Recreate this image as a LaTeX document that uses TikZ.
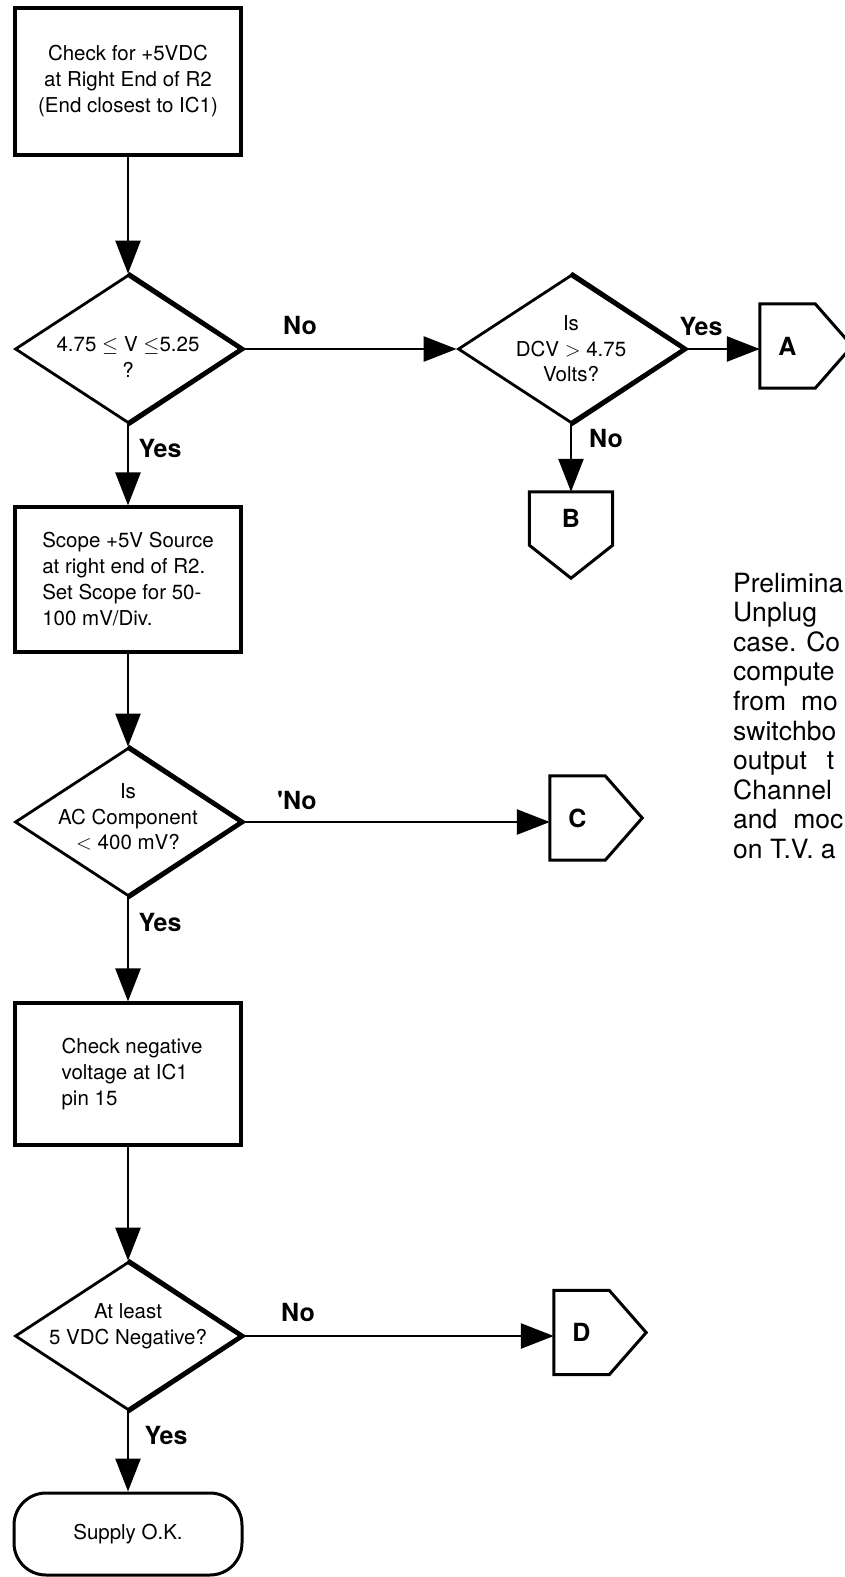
\documentclass[tikz,border=0pt]{standalone}
\usepackage{fontspec}
\setmainfont{TeX Gyre Heros}
\usetikzlibrary{positioning, shapes.geometric, arrows.meta}

\begin{document}
\begin{tikzpicture}[x=1pt, y=-1pt,
		every node/.style={font=\fontsize{20.5}{26}\selectfont},
		proc/.style={draw, line width=3.2pt, minimum width=226pt, inner sep=0pt},
		decision/.style={draw, diamond, line width=2.8pt, minimum width=226pt, minimum height=148pt, inner sep=0pt},
		dtext/.style={align=center, inner sep=0pt, font=\fontsize{20.5}{25.5}\selectfont},
		offpage/.style={minimum width=55pt, minimum height=84pt, inner sep=0pt, font=\fontsize{25}{30}\selectfont\bfseries},
		lbl/.style={inner sep=0pt, font=\fontsize{25}{30}\selectfont\bfseries},
		note/.style={inner sep=0pt, font=\fontsize{26.5}{29.6}\selectfont},
		flow/.style={line width=2.6pt, -{Triangle[length=33pt, width=25pt]}}]
	
	\useasboundingbox (0,0) rectangle (844,1577);
	
	% main column
	\node[proc, minimum height=147pt, align=center] (chk) at (128,81.5) {Check for +5VDC\\at Right End of R2\\(End closest to IC1)};
	\node[decision, label={[dtext, yshift=-8pt]center:{4.75 $\leq$ V $\leq$5.25\\?}}] (d1) at (128,349) {};
	\node[proc, minimum height=145pt, align=left] (scope) at (128,579.5) {Scope +5V Source\\at right end of R2.\\Set Scope for 50-\\100 mV/Div.};
	\node[decision, label={[dtext, yshift=5pt]center:{Is\\AC Component\\$<$ 400 mV?}}] (d3) at (128,822) {};
	\node[proc, minimum height=142pt, align=left] (neg) at (128,1074) {\hspace*{8pt}Check negative\\\hspace*{8pt}voltage at IC1\\\hspace*{8pt}pin 15};
	\node[decision, label={[dtext, yshift=10pt]center:{At least\\5 VDC Negative?}}] (d4) at (128,1336) {};
	\node[proc, line width=3pt, rounded corners=32pt, minimum width=228pt, minimum height=82pt] (ok) at (128,1534) {Supply O.K.};
	
	% right side
	\node[decision, label={[dtext]center:{Is\\DCV $>$ 4.75\\Volts?}}] (d2) at (571,349) {};
	\node[offpage] (A) at (787.5,346) {A};
	\node[offpage, minimum width=83pt, minimum height=53pt] (B) at (571,518.5) {B};
	\node[offpage] (C) at (577.5,818) {C};
	\node[offpage] (D) at (581.5,1332.5) {D};
	
	\foreach \p in {A,C,D}
		\draw[line width=3pt] (\p.north west) -- (\p.north east) -- ([xshift=37pt]\p.east) -- (\p.south east) -- (\p.south west) -- cycle;
	\draw[line width=3pt] (B.north west) -- (B.north east) -- (B.south east) -- ([yshift=-33pt]B.south) -- (B.south west) -- cycle;
	
	% heavier right edges of the diamonds
	\foreach \d in {d1,d2,d3,d4}
		\draw[line width=4.4pt] (\d.north) -- (\d.east) -- (\d.south);
	
	% connectors
	\draw[flow] (chk.south) -- (d1.north);
	\draw[flow] (d1.east) -- (d2.west);
	\draw[flow] (d2.east) -- (d2.east -| A.west);
	\draw[flow] (d2.south) -- (B.north);
	\draw[flow] (d1.south) -- (scope.north);
	\draw[flow] (scope.south) -- (d3.north);
	\draw[flow] (d3.east) -- (d3.east -| C.west);
	\draw[flow] (d3.south) -- (neg.north);
	\draw[flow] (neg.south) -- (d4.north);
	\draw[flow] (d4.east) -- (d4.east -| D.west);
	\draw[flow] (d4.south) -- (ok.north);
	
	% branch labels
	\node[lbl] (no1) at (300,325) {No};
	\node[lbl] (yes1) at (160,448) {Yes};
	\node[lbl] (yes2) at (701,326) {Yes};
	\node[lbl] (no2) at (606,438) {No};
	\node[lbl] (no3) at (297,800) {\textquotesingle No};
	\node[lbl] (yes3) at (160,922) {Yes};
	\node[lbl] (no4) at (298,1312) {No};
	\node[lbl] (yes4) at (166,1435) {Yes};
	
	% note at the page edge
	\foreach \t [count=\i from 0] in {Prelimina, Unplug, case. Co, compute, from\hspace{15pt}mo, switchbo, output\hspace{20pt}t, Channel, and\hspace{16pt}moc, on T.V. a}
		\node[note, anchor=base west] (n\i) at (733,592+29.6*\i) {\t};
\end{tikzpicture}
\end{document}
